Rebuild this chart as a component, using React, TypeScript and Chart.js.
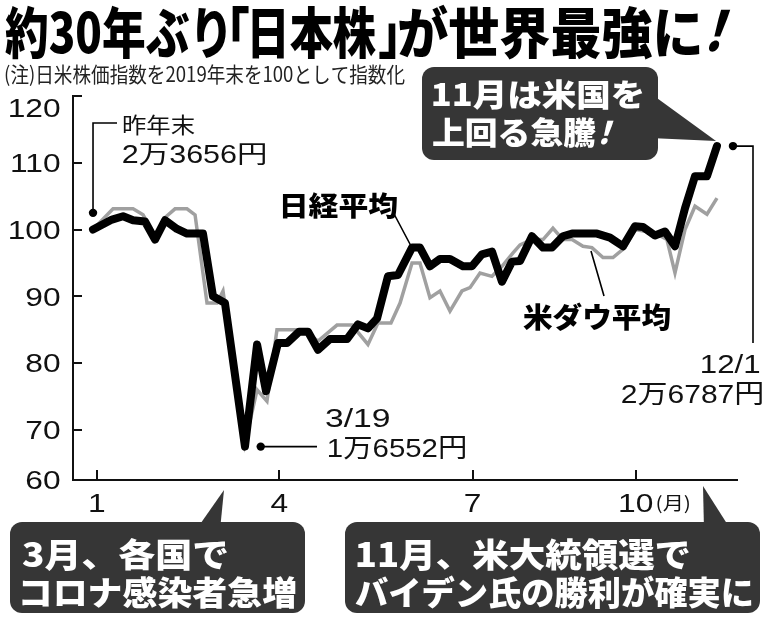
import React, { useEffect, useRef } from 'react';
import { Chart, registerables } from 'chart.js';

Chart.register(...registerables);

// ---- data (x = weeks since end of 2019, y = index, 2019 year-end = 100) ----
const nikkeiWeeks = [0, 1.46, 2.31, 3.08, 4.0, 4.77, 5.54, 6.46, 7.23, 8.46, 9.23, 10.15, 11.69, 12.62, 13.31, 14.23, 14.92, 15.85, 16.54, 17.31, 18.23, 19.54, 20.38, 21.15, 21.85, 22.69, 23.46, 24.54, 25.15, 25.92, 26.69, 27.46, 28.46, 29.15, 29.92, 30.69, 31.46, 32.23, 32.85, 33.77, 34.62, 35.31, 36.15, 36.85, 38.77, 39.77, 40.77, 41.69, 42.31, 43.23, 44.0, 44.77, 45.54, 46.31, 47.23, 48.0];
const nikkeiValues = [100.0, 101.5, 102.0, 101.4, 101.2, 98.5, 101.4, 100.1, 99.4, 99.4, 90.0, 89.0, 67.5, 82.8, 75.8, 83.0, 83.0, 84.7, 84.7, 82.0, 83.6, 83.6, 85.8, 85.2, 86.7, 93.0, 93.2, 97.3, 97.3, 94.5, 95.6, 95.6, 94.5, 94.5, 96.3, 96.7, 92.2, 95.2, 95.3, 99.0, 97.3, 97.3, 99.0, 99.4, 99.4, 98.8, 97.5, 100.5, 100.4, 99.1, 99.7, 97.5, 103.2, 108.0, 108.0, 112.5];
const dowWeeks = [0, 1.54, 3.08, 3.85, 4.77, 5.54, 6.31, 7.23, 7.85, 8.77, 9.54, 10.0, 11.69, 12.62, 13.38, 14.15, 16.15, 17.31, 18.77, 19.92, 21.15, 21.92, 22.92, 23.62, 24.54, 25.15, 25.92, 26.69, 27.46, 28.38, 29.0, 29.77, 30.69, 31.46, 32.31, 32.85, 33.77, 34.62, 35.38, 36.15, 36.85, 37.69, 38.38, 39.23, 40.0, 40.92, 41.69, 43.23, 44.15, 44.77, 45.54, 46.31, 47.23, 48.0];
const dowValues = [100.0, 103.1, 103.1, 102.2, 99.0, 101.8, 103.1, 103.1, 102.2, 89.0, 89.0, 90.8, 68.0, 76.0, 74.3, 85.0, 85.0, 83.3, 85.7, 85.7, 82.8, 86.0, 86.0, 89.0, 95.0, 95.0, 89.8, 90.8, 87.8, 90.8, 91.3, 93.5, 93.0, 94.5, 96.5, 97.7, 98.5, 98.5, 100.2, 98.5, 98.5, 97.5, 97.3, 95.8, 95.8, 97.3, 100.0, 99.5, 98.5, 93.5, 100.0, 103.5, 102.3, 104.7];

const yTickValues = [62.5, 70, 80, 90, 100, 110, 120];
const yTickLabels = ['60', '70', '80', '90', '100', '110', '120'];
const xTickValues = [0.31, 14.31, 29.23, 41.77];
const xTickLabels = ['1', '4', '7', '10'];
const xUnitLabel = '(月)';

// annotation markers (data coords)
const startMarker = { x: 0, y: 102.5 };
const lowMarker = { x: 12.9, y: 67.5 };
const endMarker = { x: 49.23, y: 112.5 };

const X_MIN = -1.54;
const X_MAX = 49.54;
const Y_MIN = 62.5;
const Y_MAX = 120;

const JP = '"Noto Sans CJK JP", sans-serif';
const LAT = '"Liberation Sans", "Noto Sans CJK JP", sans-serif';
const BOX = '#363636';

// draw text so that its ink spans [left, right] horizontally (or uses a fixed stretch)
function drawInk(
  ctx: CanvasRenderingContext2D,
  text: string,
  font: string,
  color: string,
  left: number,
  right: number | null,
  baseline: number,
  sx0 = 1,
  align: 'left' | 'right' | 'center' = 'left',
  skew = 0
) {
  ctx.save();
  ctx.font = font;
  ctx.textAlign = 'left';
  ctx.textBaseline = 'alphabetic';
  const m = ctx.measureText(text);
  const abl = m.actualBoundingBoxLeft;
  const inkW = m.actualBoundingBoxRight + abl;
  let sx = sx0;
  let l = left;
  if (right !== null) {
    sx = (right - left) / inkW;
  } else {
    const w = inkW * sx;
    if (align === 'right') l = left - w;
    else if (align === 'center') l = left - w / 2;
  }
  ctx.translate(l + abl * sx, baseline);
  if (skew) ctx.transform(1, 0, -skew, 1, 0, 0);
  ctx.scale(sx, 1);
  ctx.fillStyle = color;
  ctx.fillText(text, 0, 0);
  ctx.restore();
}

function rrect(ctx: CanvasRenderingContext2D, x: number, y: number, w: number, h: number, r: number) {
  ctx.moveTo(x + r, y);
  ctx.lineTo(x + w - r, y);
  ctx.arcTo(x + w, y, x + w, y + r, r);
  ctx.lineTo(x + w, y + h - r);
  ctx.arcTo(x + w, y + h, x + w - r, y + h, r);
  ctx.lineTo(x + r, y + h);
  ctx.arcTo(x, y + h, x, y + h - r, r);
  ctx.lineTo(x, y + r);
  ctx.arcTo(x, y, x + r, y, r);
  ctx.closePath();
}

function callout(ctx: CanvasRenderingContext2D, box: number[], tail: number[][]) {
  ctx.save();
  ctx.fillStyle = BOX;
  ctx.beginPath();
  rrect(ctx, box[0], box[1], box[2] - box[0], box[3] - box[1], 12);
  ctx.fill();
  ctx.beginPath();
  ctx.moveTo(tail[0][0], tail[0][1]);
  for (let i = 1; i < tail.length; i++) ctx.lineTo(tail[i][0], tail[i][1]);
  ctx.closePath();
  ctx.fill();
  ctx.restore();
}

const overlay = {
  id: 'overlay',
  afterDraw(chart: any) {
    const ctx: CanvasRenderingContext2D = chart.ctx;
    const xs = chart.scales.x;
    const ys = chart.scales.y;
    const area = chart.chartArea;
    ctx.save();

    // inward tick marks
    ctx.strokeStyle = '#111';
    ctx.lineWidth = 2;
    ctx.lineCap = 'square';
    ctx.beginPath();
    yTickValues.forEach((v) => {
      if (v === Y_MIN) return;
      const py = Math.round(ys.getPixelForValue(v));
      ctx.moveTo(area.left, py);
      ctx.lineTo(area.left + 8, py);
    });
    xTickValues.forEach((v) => {
      const px = Math.round(xs.getPixelForValue(v));
      ctx.moveTo(px, area.bottom);
      ctx.lineTo(px, area.bottom - 9);
    });
    ctx.stroke();

    // tick labels
    const tickFont = `26px ${LAT}`;
    yTickValues.forEach((v, i) => {
      const py = ys.getPixelForValue(v);
      const off = i === yTickValues.length - 1 ? 21 : 9.3;
      drawInk(ctx, yTickLabels[i], tickFont, '#111', 60, null, py + off, 1.22, 'right');
    });
    let lastRight = 0;
    xTickValues.forEach((v, i) => {
      const px = xs.getPixelForValue(v);
      ctx.font = tickFont;
      const m = ctx.measureText(xTickLabels[i]);
      const w = (m.actualBoundingBoxRight + m.actualBoundingBoxLeft) * 1.22;
      drawInk(ctx, xTickLabels[i], tickFont, '#111', px, null, 512, 1.22, 'center');
      lastRight = px + w / 2;
    });
    drawInk(ctx, xUnitLabel, `18px ${JP}`, '#111', lastRight + 4, lastRight + 37, 510);

    // markers + leader lines
    ctx.fillStyle = '#000';
    ctx.strokeStyle = '#000';
    ctx.lineWidth = 1.6;
    ctx.lineCap = 'butt';
    const sp = { x: xs.getPixelForValue(startMarker.x), y: ys.getPixelForValue(startMarker.y) };
    const lp = { x: xs.getPixelForValue(lowMarker.x), y: ys.getPixelForValue(lowMarker.y) };
    const ep = { x: xs.getPixelForValue(endMarker.x), y: ys.getPixelForValue(endMarker.y) };
    [sp, lp, ep].forEach((p) => {
      ctx.beginPath();
      ctx.arc(p.x, p.y, 4.2, 0, Math.PI * 2);
      ctx.fill();
    });
    ctx.beginPath();
    ctx.moveTo(sp.x, sp.y);
    ctx.lineTo(sp.x, 123);
    ctx.lineTo(117, 123);
    ctx.moveTo(lp.x, lp.y);
    ctx.lineTo(317, lp.y);
    ctx.moveTo(ep.x, ep.y);
    ctx.lineTo(753, ep.y);
    ctx.lineTo(753, 343);
    // series label leaders
    ctx.moveTo(393, 212);
    ctx.lineTo(411, 246);
    ctx.moveTo(591, 251);
    ctx.lineTo(604, 296);
    ctx.stroke();

    // annotation texts
    drawInk(ctx, '昨年末', `22px ${JP}`, '#111', 123, 195, 133);
    drawInk(ctx, '2万3656円', `25px ${LAT}`, '#111', 123, 265, 163);
    drawInk(ctx, '3/19', `26px ${LAT}`, '#111', 325, 390, 427);
    drawInk(ctx, '1万6552円', `26px ${LAT}`, '#111', 328, 465, 457);
    drawInk(ctx, '12/1', `26px ${LAT}`, '#111', 701, 760, 373);
    drawInk(ctx, '2万6787円', `26px ${LAT}`, '#111', 622, 762, 403);
    drawInk(ctx, '日経平均', `900 27px ${JP}`, '#000', 282, 397, 216);
    drawInk(ctx, '米ダウ平均', `900 28px ${JP}`, '#000', 523, 670, 328);

    // callouts
    callout(ctx, [422, 67, 658, 160], [[650, 93], [716, 141], [650, 138]]);
    drawInk(ctx, '11月は米国を', `900 31px ${JP}`, '#fff', 433, 643, 106);
    drawInk(ctx, '上回る急騰', `900 31px ${JP}`, '#fff', 433, 596, 144);
    drawInk(ctx, '！', `900 31px ${JP}`, '#fff', 600, 607, 144, 1, 'left', 0.3);

    callout(ctx, [10, 522, 305, 613], [[196, 530], [224, 490], [220, 530]]);
    drawInk(ctx, '3月、各国で', `900 33px ${JP}`, '#fff', 22, 228, 567);
    drawInk(ctx, 'コロナ感染者急増', `900 33px ${JP}`, '#fff', 22, 296, 605);

    callout(ctx, [345, 522, 760, 613], [[703, 486], [731, 530], [704, 530]]);
    drawInk(ctx, '11月、米大統領選で', `900 33px ${JP}`, '#fff', 357, 690, 567);
    drawInk(ctx, 'バイデン氏の勝利が確実に', `900 33px ${JP}`, '#fff', 355, 752, 605);

    // title (pieces so the corner brackets stay narrow) & note
    const tf = `900 55px ${JP}`;
    const tb = 53;
    drawInk(ctx, '約30年ぶり', tf, '#000', 5, 226, tb);
    drawInk(ctx, '「', tf, '#000', 232, 249, tb, 1);
    drawInk(ctx, '日本株', tf, '#000', 252, 376, tb);
    drawInk(ctx, '」', tf, '#000', 379, 396, tb, 1);
    drawInk(ctx, 'が世界最強に', tf, '#000', 399, 700, tb);
    drawInk(ctx, '！', tf, '#000', 707, 718, tb - 2, 1, 'left', 0.32);
    drawInk(ctx, '(注)日米株価指数を2019年末を100として指数化', `21px ${JP}`, '#222', 5, 405, 82);

    ctx.restore();
  },
};

export default function App() {
  const ref = useRef<HTMLCanvasElement | null>(null);
  useEffect(() => {
    if (!ref.current) return;
    const chart = new Chart(ref.current, {
      type: 'line',
      data: {
        datasets: [
          {
            label: '日経平均',
            data: nikkeiWeeks.map((w, i) => ({ x: w, y: nikkeiValues[i] })),
            borderColor: '#000',
            borderWidth: 8,
            pointRadius: 0,
            borderJoinStyle: 'round',
            borderCapStyle: 'round',
            tension: 0,
            fill: false,
          },
          {
            label: '米ダウ平均',
            data: dowWeeks.map((w, i) => ({ x: w, y: dowValues[i] })),
            borderColor: '#a0a0a0',
            borderWidth: 3.5,
            pointRadius: 0,
            borderJoinStyle: 'miter',
            tension: 0,
            fill: false,
          },
        ],
      },
      options: {
        responsive: false,
        animation: false,
        devicePixelRatio: 1,
        layout: { padding: { left: 73, right: 31, top: 96, bottom: 143 } },
        plugins: {
          legend: { display: false },
          tooltip: { enabled: false },
          title: { display: false },
        },
        scales: {
          x: {
            type: 'linear',
            min: X_MIN,
            max: X_MAX,
            ticks: { display: false },
            grid: { display: false },
            border: { display: true, color: '#111', width: 2 },
            afterFit: (s: any) => {
              s.height = 0;
            },
          },
          y: {
            type: 'linear',
            min: Y_MIN,
            max: Y_MAX,
            ticks: { display: false },
            grid: { display: false },
            border: { display: true, color: '#111', width: 2 },
            afterFit: (s: any) => {
              s.width = 0;
            },
          },
        },
      } as any,
      plugins: [overlay],
    });
    return () => chart.destroy();
  }, []);
  return (
    <div style={{ position: 'absolute', left: 0, top: 0, width: 768, height: 623, background: '#fff' }}>
      <canvas ref={ref} width={768} height={623} style={{ display: 'block' }} />
    </div>
  );
}
